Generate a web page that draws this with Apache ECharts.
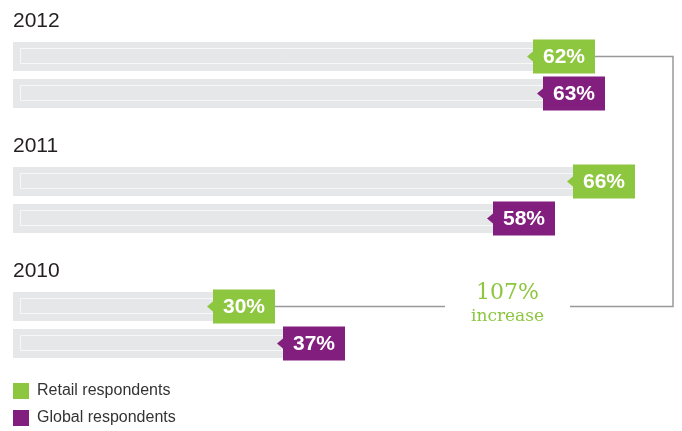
<!DOCTYPE html>
<html>
<head>
    <meta http-equiv="content-type" content="text/html; charset=utf-8">
    <script src="https://cdn.jsdelivr.net/npm/echarts@6/dist/echarts.min.js"></script>
    <style>
        html, body { margin: 0; padding: 0; background: #fff; }
        #main { width: 682px; height: 431px; }
    </style>
</head>
<body>
<div id="main"></div>
<script>
    // data
    var years = ['2012', '2011', '2010'];
    var groups = ['Retail respondents', 'Global respondents'];
    var retail = [62, 66, 30];
    var global = [63, 58, 37];
    var increaseLabel = '107%';
    var increaseWord = 'increase';

    var green = '#8dc63f';
    var purple = '#821f7e';
    var xMin = 10, xMax = 70;
    var boxW = 62, boxH = 34, barH = 29;

    // one bar: grey track, inner outline, coloured value tag with a small pointer
    function renderBar(params, api) {
        var v = api.value(0), cat = api.value(1);
        var start = api.coord([xMin, cat]);
        var end = api.coord([v, cat]);
        var cy = end[1];
        var top = cy - barH / 2;
        var color = api.visual('color');
        return {
            type: 'group',
            children: [
                {type: 'rect', shape: {x: start[0], y: top, width: end[0] - start[0], height: barH},
                    style: {fill: '#e6e7e8'}},
                {type: 'rect', shape: {x: start[0] + 7.5, y: top + 6.5, width: end[0] - start[0], height: 15},
                    style: {fill: 'none', stroke: '#f7f7f7', lineWidth: 1}},
                {type: 'polygon', shape: {points: [[end[0] - 6, cy], [end[0], cy - 5], [end[0], cy + 5]]},
                    style: {fill: color}},
                {type: 'rect', shape: {x: end[0], y: cy - boxH / 2, width: boxW, height: boxH},
                    style: {fill: color}},
                {type: 'text', style: {text: v + '%', x: end[0] + boxW / 2, y: cy + 1,
                    textAlign: 'center', textVerticalAlign: 'middle', fill: '#fff',
                    font: 'bold 21px "Liberation Sans", Arial, sans-serif'}}
            ]
        };
    }

    var grids = [], xAxes = [], yAxes = [], series = [], texts = [];
    years.forEach(function (y, i) {
        var top = 38 + 125 * i;
        grids.push({left: 13, top: top, width: 600, height: 74});
        xAxes.push({type: 'value', gridIndex: i, min: xMin, max: xMax, show: false});
        yAxes.push({type: 'category', gridIndex: i, data: ['Retail', 'Global'], inverse: true, show: false});
        series.push({
            name: groups[0], type: 'custom', xAxisIndex: i, yAxisIndex: i,
            itemStyle: {color: green}, renderItem: renderBar, data: [[retail[i], 0]]
        });
        series.push({
            name: groups[1], type: 'custom', xAxisIndex: i, yAxisIndex: i,
            itemStyle: {color: purple}, renderItem: renderBar, data: [[global[i], 1]]
        });
        texts.push({
            type: 'text', left: 13, top: top - 27,
            style: {text: y, fill: '#231f20', font: '21px "Liberation Sans", Arial, sans-serif'}
        });
    });

    // one legend per entry so they stack
    var legends = groups.map(function (g, i) {
        return {
            data: [g], left: 13, top: 383 + 27 * i,
            itemWidth: 16, itemHeight: 16, icon: 'rect', padding: 0,
            selectedMode: false,
            textStyle: {fontSize: 16, color: '#333', padding: [5, 0, 0, 3],
                fontFamily: '"Liberation Sans", Arial, sans-serif'}
        };
    });

    var chart = echarts.init(document.getElementById('main'));
    chart.setOption({
        animation: false,
        grid: grids,
        xAxis: xAxes,
        yAxis: yAxes,
        legend: legends,
        graphic: texts,
        series: series
    });

    // connector from the 2010 retail tag to the 2012 retail tag
    var p1 = chart.convertToPixel({gridIndex: 0}, [retail[0], 0]);
    var p2 = chart.convertToPixel({gridIndex: 2}, [retail[2], 0]);
    var lineX = 673, gapL = 445, gapR = 570;
    var lineStyle = {stroke: '#999', lineWidth: 1.5, fill: null};
    chart.setOption({
        graphic: texts.concat([
            {type: 'polyline', shape: {points: [[p1[0] + boxW, p1[1]], [lineX, p1[1]], [lineX, p2[1]], [gapR, p2[1]]]},
                style: lineStyle},
            {type: 'polyline', shape: {points: [[gapL, p2[1]], [p2[0] + boxW, p2[1]]]}, style: lineStyle},
            {type: 'text', x: (gapL + gapR) / 2, y: p2[1] - 13,
                style: {text: increaseLabel, textAlign: 'center', textVerticalAlign: 'middle', fill: green,
                    font: '22px "DejaVu Serif", serif'}},
            {type: 'text', x: (gapL + gapR) / 2, y: p2[1] + 10,
                style: {text: increaseWord, textAlign: 'center', textVerticalAlign: 'middle', fill: green,
                    font: '17px "DejaVu Serif", serif'}}
        ])
    });
</script>
</body>
</html>
